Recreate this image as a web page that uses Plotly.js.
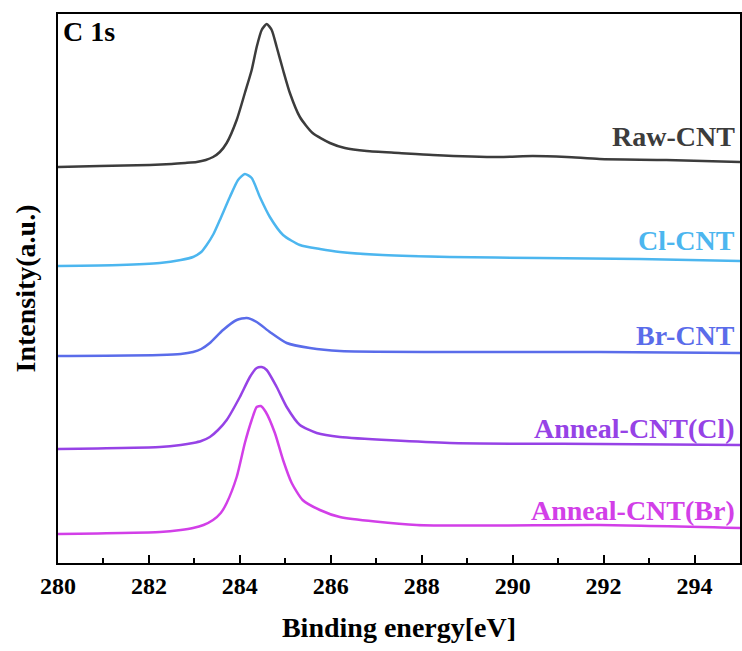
<!DOCTYPE html>
<html><head><meta charset="utf-8">
<script src="https://cdn.plot.ly/plotly-3.0.1.min.js"></script>
<style>html,body{margin:0;padding:0;background:#fff}#chart{width:742px;height:651px}</style>
</head><body><div id="chart"></div>
<script>
// Binding energy (eV) and offset intensities (a.u.)
const rawE = [280.00,280.92,282.02,282.50,282.80,283.05,283.25,283.41,283.56,283.71,283.93,284.11,284.26,284.37,284.48,284.59,284.70,284.81,284.95,285.10,285.32,285.60,285.98,286.31,286.79,287.50,288.24,289.71,290.44,291.19,291.91,293.38,295.00];
const rawI = [396,397,398,399,400,401,403,406,411,420,443,470,493,516,533,539,533,516,493,470,446,430,420,415,412,410,408,406,407,406,404,403,401];
const clE = [280,281.36,282.24,282.70,282.97,283.15,283.27,283.42,283.56,283.78,283.96,284.11,284.26,284.44,284.66,284.95,285.32,285.76,286.20,287.14,288.62,290.59,292.79,295];
const clI = [297,298,300,303,306,311,318,329,343,366,383,389,385,366,346,328,318,314,311,308,306,305,304,302];
const brE = [280,282.24,282.70,282.97,283.15,283.34,283.63,283.93,284.15,284.37,284.66,285.03,285.54,286.20,288.62,291.91,295];
const brI = [207,208,209,211,214,220,233,243,245,241,231,220,215,212,211,211,210];
const aclE = [280,282.24,282.70,282.97,283.15,283.34,283.52,283.71,284.00,284.22,284.37,284.48,284.59,284.81,285.03,285.32,285.69,286.20,288.62,291.91,295];
const aclI = [114,116,118,120,122,126,133,143,166,186,195,196,193,176,156,138,130,126,120,119,118];
const abrE = [280,282.24,282.70,282.97,283.20,283.41,283.58,283.71,283.93,284.11,284.26,284.37,284.46,284.57,284.77,284.95,285.14,285.38,285.76,286.20,287.89,291.91,295];
const abrI = [29,31,33,35,38,43,50,60,86,120,143,156,157,151,130,103,80,63,53,46,38,38,35];

const names = ["Raw-CNT","Cl-CNT","Br-CNT","Anneal-CNT(Cl)","Anneal-CNT(Br)"];
const colors = ["#3c3c3c","#4cb6ef","#5a6cea","#9642e6","#d23fe8"];
const labelY = [427,323,228,135,53];
const xs = [rawE,clE,brE,aclE,abrE];
const ys = [rawI,clI,brI,aclI,abrI];

const font = "'Liberation Serif', 'Times New Roman', Times, serif";
const traces = names.map((n,i)=>({
  x: xs[i], y: ys[i], type:'scatter', mode:'lines', name:n,
  line:{color:colors[i], width:2.5, shape:'spline', smoothing:0.6}
}));
const annotations = names.map((n,i)=>({
  text:'<b>'+n+'</b>', xref:'paper', x:0.995, xanchor:'right', yref:'y', y:labelY[i], yanchor:'middle',
  showarrow:false, font:{family:font, size:28, color:colors[i]}
}));
annotations.push({text:'<b>C 1s</b>', xref:'paper', yref:'paper', x:0.005, y:1.0, xanchor:'left', yanchor:'top',
  showarrow:false, font:{family:font, size:28, color:'#000'}});

const layout = {
  width:742, height:651,
  margin:{l:58, r:2, t:14, b:88},
  paper_bgcolor:'#fff', plot_bgcolor:'#fff',
  showlegend:false,
  font:{family:font, color:'#000'},
  xaxis:{range:[280,295], dtick:2, tick0:280, showgrid:false, zeroline:false,
    showline:true, linecolor:'#000', linewidth:2, mirror:true,
    ticks:'inside', ticklen:8, tickwidth:2, tickcolor:'#000',
    minor:{dtick:1, ticks:'inside', ticklen:5, tickwidth:2, tickcolor:'#000', showgrid:false},
    tickfont:{family:font, size:24, color:'#000', weight:'bold'},
    title:{text:'<b>Binding energy[eV]</b>', font:{family:font, size:28, color:'#000'}, standoff:20}},
  yaxis:{range:[0,549], showgrid:false, zeroline:false, showticklabels:false, ticks:'',
    showline:true, linecolor:'#000', linewidth:2, mirror:true,
    title:{text:'<b>Intensity(a.u.)</b>', font:{family:font, size:28, color:'#000'}, standoff:12}},
  annotations: annotations
};
Plotly.newPlot('chart', traces, layout, {displayModeBar:false, staticPlot:true});
</script></body></html>
